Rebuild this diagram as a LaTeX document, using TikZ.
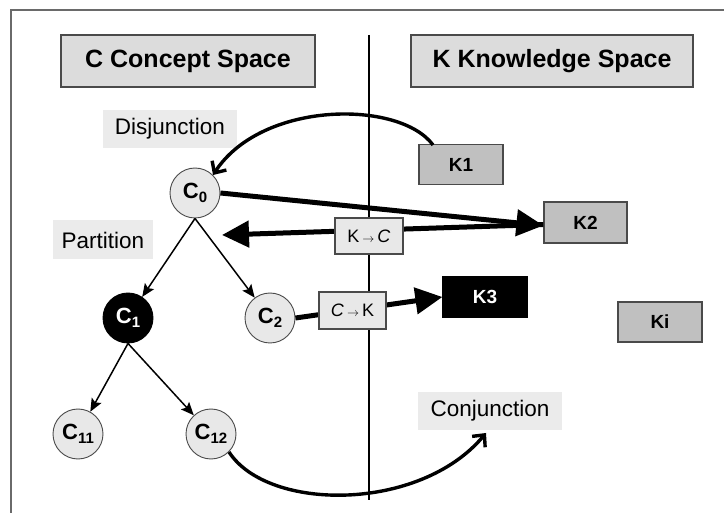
\documentclass[tikz,border=0pt]{standalone}
\usepackage{fontspec}
\setmainfont{Liberation Sans}
\usetikzlibrary{arrows.meta}

\definecolor{titlefill}{HTML}{DCDCDC}
\definecolor{kfill}{HTML}{C0C0C0}
\definecolor{labelfill}{HTML}{EBEBEB}
\definecolor{cfill}{HTML}{E8E8E8}
\definecolor{framegray}{HTML}{6A6A6A}
\definecolor{edgegray}{HTML}{4A4A4A}

% concept name with a lowered index
\newcommand{\cname}[1]{C\raisebox{-4.5pt}{\fontsize{15}{15}\selectfont\bfseries #1}}
% thin arrow used inside the transfer boxes
\newcommand{\thinarrow}{\,{\fontsize{13}{13}\selectfont$\rightarrow$}\,}

\tikzset{
  titlebox/.style={draw=edgegray, fill=titlefill, line width=1.2pt, minimum height=52pt, inner sep=0pt, font=\fontsize{25}{30}\selectfont\bfseries},
  kbox/.style={draw=edgegray, fill=kfill, line width=1.2pt, minimum width=84pt, minimum height=40pt, inner sep=0pt, font=\fontsize{19}{23}\selectfont\bfseries},
  kdark/.style={kbox, draw=black, fill=black, text=white},
  tagbox/.style={fill=labelfill, inner sep=0pt, minimum height=38pt, font=\fontsize{22.5}{27}\selectfont},
  concept/.style={circle, draw=edgegray, fill=cfill, line width=0.9pt, minimum size=50pt, inner sep=0pt, font=\fontsize{22}{26}\selectfont\bfseries},
  conceptdark/.style={concept, fill=black, draw=black, text=white},
  passbox/.style={draw=edgegray, fill=cfill, line width=1.2pt, minimum width=68pt, minimum height=36pt, inner sep=0pt, font=\fontsize{18}{21}\selectfont},
  treearrow/.style={line width=1.5pt, -{Stealth[length=13pt,width=11pt,inset=2.5pt]}},
  bigarrow/.style={line width=5pt, -{Triangle[length=27pt,width=26pt]}},
  arcarrow/.style={line width=3.4pt, -{Straight Barb[length=9pt,width=17pt,line width=3.4pt]}},
}

\begin{document}
\begin{tikzpicture}[x=1pt, y=-1pt]
  \useasboundingbox (0,0) rectangle (724,513);
  \fill[white] (0,0) rectangle (724,513);

  % outer frame: its top and left edges
  \draw[framegray, line width=1.5pt] (11,513) -- (11,10) -- (724,10);

  % divider between the two spaces
  \coordinate (divtop) at (369,35);
  \coordinate (divbot) at (369,500);
  \draw[line width=1.1pt] (divtop) -- (divbot);

  % space titles
  \node[titlebox, minimum width=254pt] (cspace) at (188,61) {C Concept Space};
  \node[titlebox, minimum width=282pt] (kspace) at (552,61) {K Knowledge Space};

  % operator tags
  \node[tagbox, minimum width=134pt] (disj) at (170,129) {Disjunction};
  \node[tagbox, minimum width=100pt, minimum height=39pt] (part) at (103,240) {Partition};
  \node[tagbox, minimum width=144pt] (conj) at (490,411) {Conjunction};

  % concepts
  \node[concept] (c0) at (195,193) {\cname{0}};
  \node[conceptdark] (c1) at (128,318) {\cname{1}};
  \node[concept] (c2) at (270,318) {\cname{2}};
  \node[concept] (c11) at (78,434) {\cname{11}};
  \node[concept] (c12) at (211,434) {\cname{12}};

  % knowledge
  \node[kbox] (k1) at (461,164.5) {K1};
  \node[kbox, minimum width=83pt, minimum height=41pt] (k2) at (585.5,222.5) {K2};
  \node[kdark] (k3) at (485,297) {K3};
  \node[kbox] (ki) at (660,322) {Ki};

  % partition tree
  \draw[treearrow] (c0.south) -- (c1);
  \draw[treearrow] (c0.south) -- (c2);
  \draw[treearrow] (c1.south) -- (c11);
  \draw[treearrow] (c1.south) -- (c12);

  % C -> K transfers
  \draw[bigarrow] (c0.east) -- ([yshift=-3pt]k2.west);
  \draw[bigarrow] (c2.east) -- (k3.west);
  \node[passbox, minimum width=67pt, minimum height=37pt] (ck) at (352.5,310.5) {\textit{C}\thinarrow K};

  % K -> C transfer
  \coordinate (kcend) at (222,235);
  \draw[bigarrow] ([yshift=-2pt]k2.west) -- (kcend);
  \node[passbox] (kc) at (369,236) {K\thinarrow\textit{C}};

  % disjunction and conjunction arcs
  \coordinate (dstart) at (433,145);
  \draw[arcarrow] (dstart) .. controls (400,100) and (262,100) .. (c0.north east);
  \coordinate (cjtip) at (486,433);
  \draw[arcarrow] (c12.south east) .. controls (268,512) and (420,512) .. (cjtip);
\end{tikzpicture}
\end{document}
